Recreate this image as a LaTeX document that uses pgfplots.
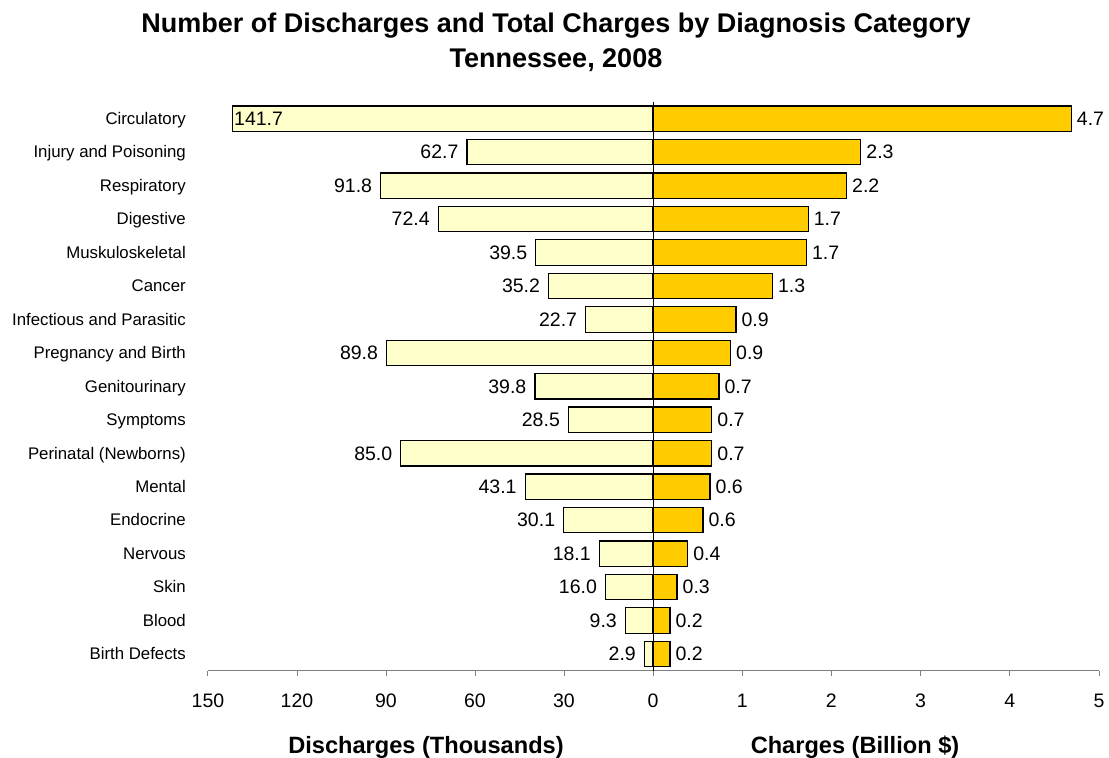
\documentclass[border=0pt]{standalone}
\usepackage{pgfplots}
\pgfplotsset{compat=1.18}
\usepackage{pgfplotstable}
\usepackage{fontspec}
\setmainfont{Liberation Sans}

\definecolor{dischfill}{HTML}{FFFFCC}
\definecolor{chargefill}{HTML}{FFCC00}
\definecolor{axisgray}{HTML}{7F7F7F}

% pos: row from the bottom; dis: discharges (thousands); chg: charges (billion $)
\pgfplotstableread{
pos dis   chg
16  141.7 4.69
15  62.7  2.33
14  91.8  2.17
13  72.4  1.74
12  39.5  1.72
11  35.2  1.34
10  22.7  0.93
9   89.8  0.87
8   39.8  0.74
7   28.5  0.66
6   85.0  0.66
5   43.1  0.64
4   30.1  0.56
3   18.1  0.39
2   16.0  0.27
1   9.3   0.19
0   2.9   0.19
}\diagdata

\pgfplotsset{
  butterfly/.style={
    scale only axis, height=568.7pt,
    ymin=-0.5, ymax=16.5,
    axis x line*=bottom, clip=false,
    xbar, bar width=0.76, bar shift=0pt,
    x axis line style={draw=axisgray, line width=1pt},
    xtick style={draw=axisgray, line width=1pt},
    tick align=outside, major tick length=5pt,
    /pgf/number format/assume math mode=true,
    xticklabel style={font=\fontsize{19.5}{22}\selectfont, yshift=-15pt},
    nodes near coords,
    every node near coord/.append style={
      font=\fontsize{19.5}{22}\selectfont, text=black, inner sep=5pt,
      text height=17.6pt, text depth=4.1pt,
      /pgf/number format/fixed, /pgf/number format/fixed zerofill,
      /pgf/number format/precision=1},
  },
  barstyle/.style={draw=black, line width=1.2pt, fill=#1},
}

\begin{document}
\begin{tikzpicture}
\path[use as bounding box] (0pt,0pt) rectangle (1109pt,758pt);

% Left half: discharges, growing leftwards from the centre
\begin{axis}[butterfly,
  at={(208pt,87.3pt)}, anchor=south west, width=445pt,
  xmin=-150, xmax=0,
  xtick={-150,-120,-90,-60,-30}, xticklabels={150,120,90,60,30},
  axis y line*=left, y axis line style={draw=none},
  ytick={0,...,16}, ytick style={draw=none},
  yticklabels={Birth Defects, Blood, Skin, Nervous, Endocrine, Mental,
    Perinatal (Newborns), Symptoms, Genitourinary, Pregnancy and Birth,
    Infectious and Parasitic, Cancer, Muskuloskeletal, Digestive,
    Respiratory, Injury and Poisoning, Circulatory},
  yticklabel style={font=\fontsize{16.8}{19}\selectfont, anchor=east,
    inner sep=0pt, text height=15.2pt, text depth=3.6pt, xshift=-17pt},
  point meta=explicit]
\addplot[barstyle=dischfill, restrict y to domain=-1:15.5,
  nodes near coords style={anchor=east, xshift=-3pt}]
  table[x expr=-\thisrow{dis}, y=pos, meta=dis] {\diagdata};
\addplot[barstyle=dischfill, restrict y to domain=15.5:17,
  nodes near coords style={anchor=west, inner sep=1pt}]
  table[x expr=-\thisrow{dis}, y=pos, meta=dis] {\diagdata};
\end{axis}

% Right half: charges
\begin{axis}[butterfly,
  at={(653pt,87.3pt)}, anchor=south west, width=446pt,
  xmin=0, xmax=5, xtick={0,...,5},
  axis y line*=left, ytick=\empty,
  y axis line style={draw=black, line width=1pt},
  point meta=x]
\addplot[barstyle=chargefill, nodes near coords style={anchor=west}]
  table[x=chg, y=pos] {\diagdata};
\end{axis}

\node[anchor=base, font=\bfseries\fontsize{27}{32}\selectfont] at (556pt,725pt)
  {Number of Discharges and Total Charges by Diagnosis Category};
\node[anchor=base, font=\bfseries\fontsize{27}{32}\selectfont] at (556pt,690pt)
  {Tennessee, 2008};
\node[anchor=base, font=\bfseries\fontsize{23.6}{28}\selectfont] at (426pt,5pt)
  {Discharges (Thousands)};
\node[anchor=base, font=\bfseries\fontsize{23.6}{28}\selectfont] at (855pt,5pt)
  {Charges (Billion \$)};
\end{tikzpicture}
\end{document}
